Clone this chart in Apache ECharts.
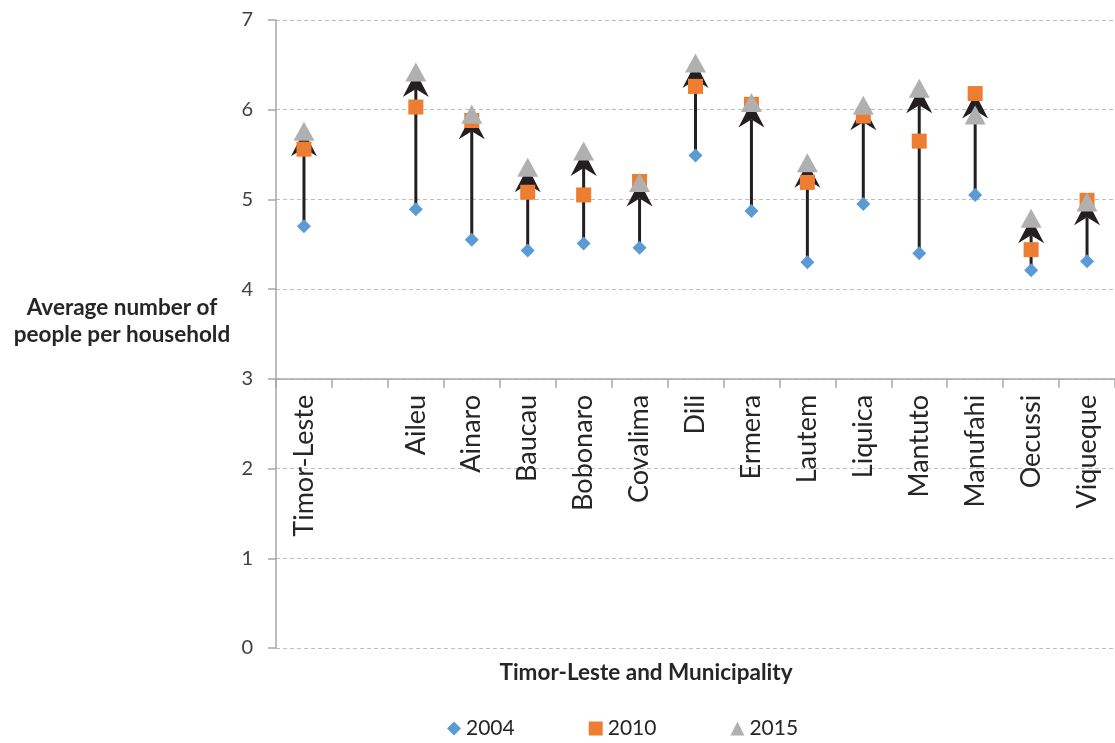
<!DOCTYPE html>
<html><head><meta charset="utf-8">
<script src="https://cdn.jsdelivr.net/npm/echarts@6/dist/echarts.min.js"></script>
<style>html,body{margin:0;padding:0;background:#fff}#c{width:1115px;height:743px}</style>
</head><body><div id="c"></div>
<script>
// ---- data ----
const categories = ['Timor-Leste', '', 'Aileu', 'Ainaro', 'Baucau', 'Bobonaro', 'Covalima', 'Dili', 'Ermera', 'Lautem', 'Liquica', 'Mantuto', 'Manufahi', 'Oecussi', 'Viqueque'];
const years = ['2004', '2010', '2015'];
const v2004 = [4.70, null, 4.89, 4.55, 4.43, 4.51, 4.46, 5.49, 4.87, 4.30, 4.95, 4.40, 5.05, 4.21, 4.31];
const v2010 = [5.56, null, 6.03, 5.88, 5.08, 5.05, 5.20, 6.26, 6.06, 5.19, 5.93, 5.65, 6.18, 4.44, 4.99];
const v2015 = [5.76, null, 6.42, 5.95, 5.36, 5.54, 5.19, 6.52, 6.08, 5.41, 6.05, 6.24, 5.94, 4.79, 4.97];
const yMin = 0, yMax = 7, yInterval = 1, axisCross = 3;
const yTitle = 'Average number of\npeople per household';
const xTitle = 'Timor-Leste and Municipality';

// ---- chart ----
const FONT = 'Lato';
const W = 1115, H = 743;
const GRID = {left: 276, right: -6, top: 20, bottom: 95};
const gridH = H - GRID.top - GRID.bottom;
const xOffset = -(gridH * (axisCross - yMin) / (yMax - yMin));

const arrowData = categories.map((c, i) => {
  const vals = [v2004[i], v2010[i], v2015[i]];
  if (vals.some(v => v == null)) return null;
  return [i, Math.min(...vals), Math.max(...vals)];
}).filter(Boolean);

function renderArrow(params, api) {
  const i = api.value(0);
  const p0 = api.coord([i, api.value(1)]);
  const p1 = api.coord([i, api.value(2)]);
  const L = 25, HW = 13, N = 17;
  return {
    type: 'group',
    children: [
      {type: 'line', shape: {x1: p0[0], y1: p0[1], x2: p1[0], y2: p1[1] + N},
       style: {stroke: '#231f20', lineWidth: 3}},
      {type: 'polygon', shape: {points: [[p1[0], p1[1]], [p1[0] + HW, p1[1] + L], [p1[0], p1[1] + N], [p1[0] - HW, p1[1] + L]]},
       style: {fill: '#231f20'}}
    ]
  };
}

const toSeries = arr => arr.map(v => v == null ? '-' : v);

const chart = echarts.init(document.getElementById('c'), null, {renderer: 'canvas'});
chart.setOption({
  animation: false,
  backgroundColor: '#ffffff',
  grid: GRID,
  legend: {
    data: years,
    left: 442, top: 713,
    itemWidth: 14, itemHeight: 14, itemGap: 74,
    textStyle: {fontFamily: FONT, fontSize: 21, color: '#262626'},
    selectedMode: false
  },
  xAxis: {
    type: 'category', data: categories, boundaryGap: true,
    offset: xOffset,
    axisLine: {show: true, onZero: false, lineStyle: {color: '#a6a6a6', width: 1.5}},
    axisTick: {show: true, length: 9, interval: 0, alignWithLabel: false, lineStyle: {color: '#a6a6a6', width: 1.5}},
    axisLabel: {interval: 0, rotate: 90, margin: 16, fontFamily: FONT, fontSize: 27, color: '#262626'},
    splitLine: {show: false}
  },
  yAxis: {
    type: 'value', min: yMin, max: yMax, interval: yInterval,
    axisLine: {show: true, lineStyle: {color: '#a6a6a6', width: 1.5}},
    axisTick: {show: true, length: 8, lineStyle: {color: '#a6a6a6', width: 1.5}},
    axisLabel: {margin: 23, fontFamily: FONT, fontSize: 20, color: '#404040'},
    splitLine: {show: true, lineStyle: {color: '#bfbfbf', type: [4, 3], width: 1}}
  },
  graphic: [
    {type: 'text', x: 122, y: 321, style: {text: yTitle, fontFamily: FONT, fontWeight: 'bold', fontSize: 22.5, lineHeight: 27, fill: '#262626', align: 'center', verticalAlign: 'middle'}},
    {type: 'text', x: 646, y: 673, style: {text: xTitle, fontFamily: FONT, fontWeight: 'bold', fontSize: 22.5, fill: '#262626', align: 'center', verticalAlign: 'middle'}}
  ],
  series: [
    {type: 'custom', name: 'arrows', data: arrowData, encode: {x: 0, y: [1, 2]}, renderItem: renderArrow, z: 1, silent: true},
    {type: 'scatter', name: years[0], data: toSeries(v2004), symbol: 'diamond', symbolSize: 14, itemStyle: {color: '#5b9bd5', opacity: 1}, z: 2},
    {type: 'scatter', name: years[1], data: toSeries(v2010), symbol: 'rect', symbolSize: 15, itemStyle: {color: '#ed7d31', opacity: 1}, z: 3},
    {type: 'scatter', name: years[2], data: toSeries(v2015), symbol: 'triangle', symbolSize: [21, 19], itemStyle: {color: '#b0b0b0', opacity: 1}, z: 4}
  ]
});
</script>
</body></html>
